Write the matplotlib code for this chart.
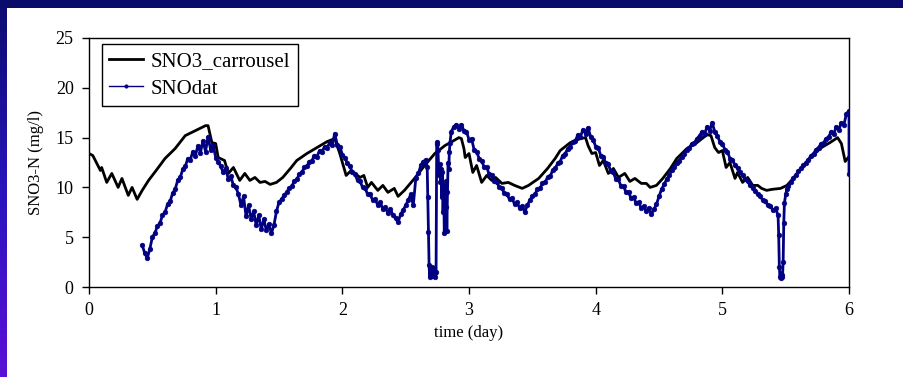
import numpy as np
import matplotlib
matplotlib.use("Agg")
import matplotlib.pyplot as plt
from matplotlib.colors import LinearSegmentedColormap
from matplotlib.patches import Rectangle

# ---------------- data ----------------
model_day = [0.00, 0.03, 0.09, 0.10, 0.14, 0.18, 0.23, 0.26, 0.31, 0.34, 0.38, 0.42, 0.47, 0.53, 0.60,
             0.68, 0.76, 0.84, 0.92, 0.94, 0.97, 1.00, 1.02, 1.07, 1.10, 1.14, 1.19, 1.23, 1.27, 1.31,
             1.35, 1.39, 1.43, 1.48, 1.53, 1.59, 1.64, 1.72, 1.80, 1.88, 1.94, 1.98, 2.03, 2.07, 2.14,
             2.17, 2.20, 2.23, 2.28, 2.32, 2.36, 2.41, 2.44, 2.49, 2.57, 2.65, 2.73, 2.81, 2.88, 2.92,
             2.94, 2.96, 2.97, 3.00, 3.03, 3.06, 3.10, 3.14, 3.18, 3.21, 3.26, 3.31, 3.36, 3.42, 3.47,
             3.55, 3.62, 3.68, 3.72, 3.80, 3.88, 3.92, 3.94, 3.97, 4.00, 4.03, 4.06, 4.10, 4.14, 4.18,
             4.23, 4.27, 4.31, 4.36, 4.40, 4.43, 4.48, 4.53, 4.59, 4.64, 4.72, 4.80, 4.88, 4.91, 4.94,
             4.97, 5.00, 5.03, 5.06, 5.10, 5.12, 5.16, 5.20, 5.24, 5.28, 5.31, 5.35, 5.39, 5.46, 5.51,
             5.56, 5.61, 5.69, 5.77, 5.85, 5.91, 5.94, 5.97, 6.00]
model_val = [13.4, 13.2, 11.7, 12.0, 10.5, 11.4, 10.0, 10.9, 9.2, 10.0, 8.8, 9.7, 10.7, 11.7, 12.9,
             13.9, 15.2, 15.7, 16.2, 16.2, 14.5, 14.4, 13.0, 12.7, 11.4, 12.0, 10.7, 11.4, 10.7, 11.0,
             10.5, 10.6, 10.3, 10.5, 11.0, 11.9, 12.7, 13.4, 14.0, 14.6, 14.9, 13.4, 11.2, 11.7, 11.0,
             11.2, 10.0, 10.5, 9.7, 10.2, 9.5, 9.9, 9.1, 9.7, 10.9, 12.2, 13.4, 14.2, 14.7, 15.0,
             14.9, 13.9, 13.0, 13.4, 11.5, 12.2, 10.5, 11.2, 10.7, 11.0, 10.4, 10.5, 10.2, 9.9, 10.2,
             10.9, 11.9, 12.9, 13.7, 14.5, 14.9, 15.0, 14.2, 13.4, 13.5, 12.2, 12.7, 11.4, 11.9, 11.0,
             11.4, 10.6, 10.9, 10.4, 10.4, 10.0, 10.2, 10.9, 11.9, 12.9, 13.9, 14.5, 15.3, 15.2, 14.0,
             13.5, 13.7, 12.0, 12.5, 10.9, 11.5, 10.5, 11.0, 10.2, 10.2, 9.9, 9.7, 9.8, 9.9, 10.2,
             10.9, 11.7, 12.9, 13.9, 14.5, 15.0, 14.4, 12.6, 13.1]

# measured data, regular 0.02-day sampling segments
meas_a_start = 0.42
meas_a_val = [4.2, 3.4, 2.9, 3.8, 5.0, 5.4, 6.1, 6.4, 7.2, 7.5,
              8.3, 8.6, 9.4, 9.8, 10.7, 11.0, 11.8, 12.1, 12.9, 12.8,
              13.6, 13.2, 14.2, 13.5, 14.7, 13.6, 15.1, 13.8, 14.3, 13.0,
              12.6, 12.1, 11.5, 11.9, 10.8, 11.1, 10.2, 10.0, 9.3, 8.2,
              9.1, 7.1, 8.2, 6.8, 7.6, 6.2, 7.2, 5.8, 6.8, 5.7,
              6.3, 5.4, 6.2, 7.6, 8.5, 8.8, 9.2, 9.5, 9.9, 10.1,
              10.6, 10.8, 11.3, 11.5, 12.0, 12.1, 12.6, 12.7, 13.2, 13.1,
              13.7, 13.6, 14.1, 14.0, 14.5, 14.3, 15.4, 14.3, 14.1, 13.3,
              13.0, 12.4, 12.1, 11.5, 11.3, 10.7, 10.6, 10.0, 9.9, 9.3,
              9.3, 8.7, 8.8, 8.2, 8.5, 7.8, 8.0, 7.4, 7.8, 7.2,
              6.9, 6.5, 7.3, 7.7, 8.2, 8.7, 9.3, 8.2, 10.9, 11.4,
              12.2, 12.6, 12.8]
spike1_day = [2.670, 2.675, 2.680, 2.685, 2.690, 2.695, 2.700, 2.705, 2.710, 2.715, 2.720, 2.725,
              2.730, 2.735, 2.740, 2.745, 2.750, 2.755, 2.760, 2.765, 2.770, 2.775, 2.780, 2.785,
              2.790, 2.795, 2.800, 2.805, 2.810, 2.815, 2.820, 2.825, 2.830, 2.835, 2.840, 2.845,
              2.850]
spike1_val = [12.0, 9.0, 5.5, 2.2, 1.0, 1.8, 1.3, 2.0, 1.1, 1.6, 1.2, 1.9,
              1.4, 1.0, 1.5, 14.4, 14.6, 13.8, 12.0, 11.2, 12.3, 10.5, 11.8, 9.0,
              11.5, 7.5, 10.2, 5.4, 9.8, 8.0, 10.6, 5.6, 9.5, 12.5, 11.8, 13.6,
              14.5]
meas_b_start = 2.86
meas_b_val = [15.6, 16.1, 16.3, 15.9, 16.3, 15.7, 15.6, 14.8, 14.9, 13.8,
              13.6, 12.9, 12.7, 12.0, 12.0, 11.3, 11.2, 10.6, 10.5, 10.0,
              9.9, 9.4, 9.3, 8.8, 8.9, 8.3, 8.5, 7.9, 8.1, 7.5,
              8.2, 8.7, 9.1, 9.3, 9.8, 9.9, 10.4, 10.5, 11.0, 11.1,
              11.7, 11.9, 12.4, 12.6, 13.2, 13.4, 13.9, 14.1, 14.6, 14.7,
              15.3, 15.1, 15.8, 15.4, 16.0, 15.1, 14.8, 14.1, 14.0, 13.2,
              13.1, 12.4, 12.3, 11.6, 11.5, 10.8, 10.8, 10.1, 10.1, 9.5,
              9.5, 8.9, 9.0, 8.4, 8.5, 7.9, 8.1, 7.6, 7.9, 7.3,
              7.8, 8.3, 9.1, 9.8, 10.3, 10.8, 11.2, 11.7, 12.0, 12.5,
              12.7, 13.1, 13.4, 13.8, 14.0, 14.4, 14.5, 14.9, 15.2, 15.6,
              15.4, 16.1, 15.7, 16.5, 15.6, 15.2, 14.6, 14.4, 13.8, 13.6,
              12.9, 12.8, 12.2, 11.9, 11.5, 11.2, 10.8, 10.6, 10.2, 9.9,
              9.6, 9.3, 9.1, 8.7, 8.6, 8.2, 8.1, 7.7, 7.9, 7.2]
spike2_day = [5.445, 5.450, 5.455, 5.460, 5.465, 5.470, 5.475, 5.480, 5.485, 5.490, 5.500, 5.510]
spike2_val = [5.2, 2.0, 1.0, 1.4, 0.9, 1.2, 1.0, 2.5, 6.4, 8.4, 9.3, 9.8]
meas_c_start = 5.52
meas_c_val = [10.1, 10.5, 10.9, 11.2, 11.6, 11.9, 12.2, 12.5, 12.8, 13.2,
              13.4, 13.8, 14.0, 14.4, 14.5, 14.9, 15.1, 15.6, 15.4, 16.1,
              15.8, 16.5, 16.3, 17.4, 17.7]
end_day = [6.0]
end_val = [11.3]

x_ticks = [0, 1, 2, 3, 4, 5, 6]
y_ticks = [0, 5, 10, 15, 20, 25]
series_names = ["SNO3_carrousel", "SNOdat"]

step = 0.02
def seg_days(start, vals):
    return list(start + step * np.arange(len(vals)))

meas_day = (seg_days(meas_a_start, meas_a_val) + spike1_day + seg_days(meas_b_start, meas_b_val)
            + spike2_day + seg_days(meas_c_start, meas_c_val) + end_day)
meas_val = meas_a_val + spike1_val + meas_b_val + spike2_val + meas_c_val + end_val

# ---------------- figure ----------------
W, H = 904, 377
fig = plt.figure(figsize=(W / 100, H / 100), dpi=100, facecolor="white")
plt.rcParams["font.family"] = ["Liberation Serif", "DejaVu Serif"]

# decorative slide background bands
fig.patches.append(Rectangle((0, 1 - 8 / H), 1, 8 / H, transform=fig.transFigure,
                             facecolor="#0a0b6b", edgecolor="none", zorder=0))
band = fig.add_axes([0, 0, 7 / W, 1 - 8 / H])
cmap = LinearSegmentedColormap.from_list("band", ["#0c0c72", "#2a14bc", "#5a10d6"])
band.imshow(np.linspace(0, 1, 256).reshape(-1, 1), aspect="auto", cmap=cmap)
band.set_axis_off()

ax = fig.add_axes([89 / W, 1 - 287 / H, 760 / W, 249 / H])
ax.plot(model_day, model_val, color="black", lw=2.0, label=series_names[0], zorder=2)
ax.plot(meas_day, meas_val, color="#000080", lw=2.0, marker="o", ms=3.4, mew=0.4,
        mec="#000080", label=series_names[1], zorder=3)

ax.set_xlim(0, 6)
ax.set_ylim(0, 25)
ax.set_xticks(x_ticks)
ax.set_yticks(y_ticks)
ax.tick_params(direction="out", length=5, width=1, labelsize=13, pad=6, color="black")
for s in ax.spines.values():
    s.set_color("black")
    s.set_linewidth(1.0)
ax.set_xlabel("time (day)", fontsize=12, labelpad=4)
ax.set_ylabel("SNO3-N (mg/l)", fontsize=12, labelpad=8)

leg = ax.legend(loc="upper left", bbox_to_anchor=(0.017, 0.976), borderaxespad=0,
                fontsize=15, frameon=True, fancybox=False, framealpha=1,
                handlelength=1.6, handletextpad=0.4, labelspacing=0.4,
                borderpad=0.35, edgecolor="black")
leg.get_frame().set_linewidth(1.0)
blue_handle = leg.legend_handles[1]
blue_handle.set_markersize(2.5)
blue_handle.set_linewidth(1.0)

fig.savefig("out.png", dpi=100, facecolor="white")
